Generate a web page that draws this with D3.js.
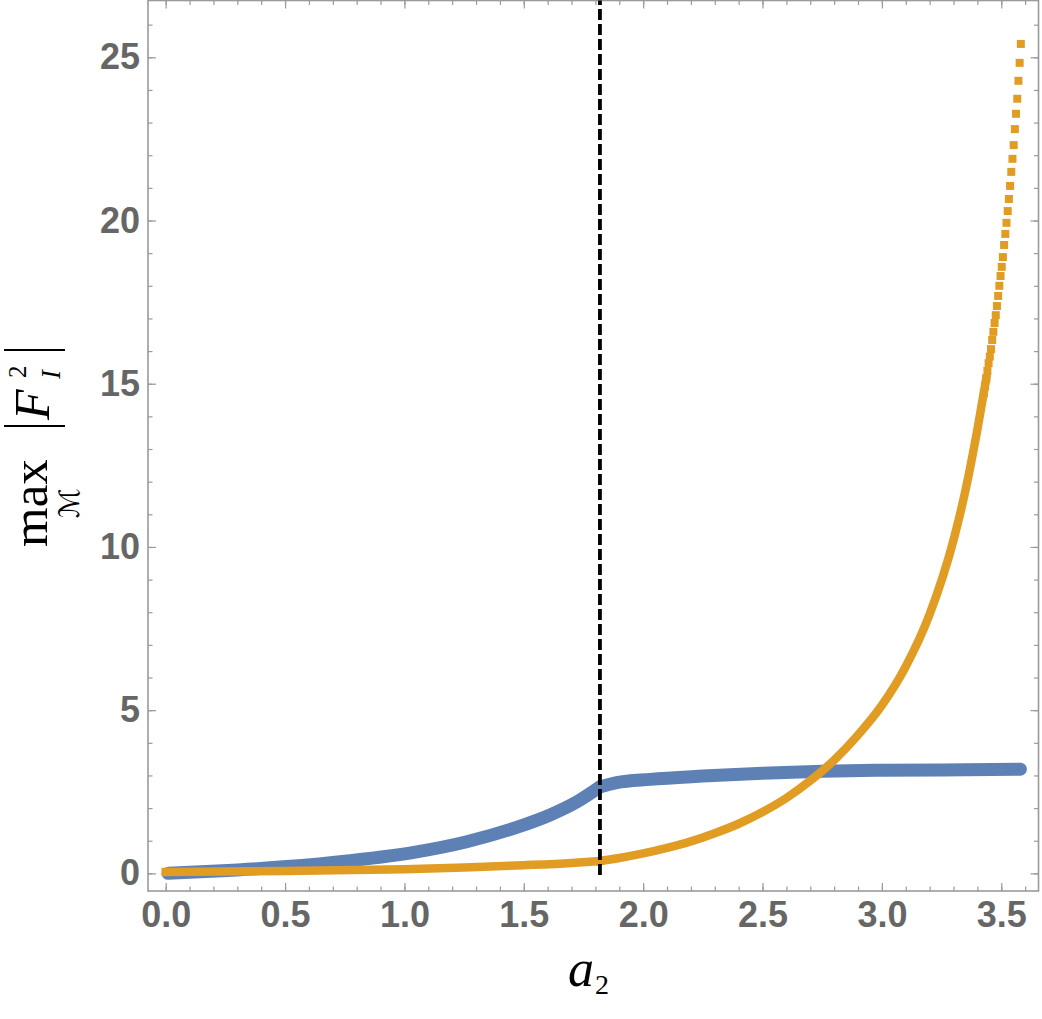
<!DOCTYPE html>
<html>
<head>
<meta charset="utf-8">
<script src="https://cdn.jsdelivr.net/npm/d3@7"></script>
<style>
  html, body { margin: 0; padding: 0; background: #fff; }
  svg { display: block; }
</style>
</head>
<body>
<svg id="chart" width="1042" height="1019"></svg>
<script>
// ---- data ----
// blue: rising branch up to the critical value, then the flat branch
const blueLowA = [0.01, 0.214, 0.493, 0.772, 1.052, 1.261, 1.47, 1.61, 1.722, 1.819];
const blueLowY = [0.0, 0.07, 0.2, 0.39, 0.66, 0.97, 1.41, 1.79, 2.19, 2.65];
const blueHighA = [1.819, 1.889, 2.029, 2.25, 2.5, 2.75, 3.0, 3.25, 3.58];
const blueHighY = [2.65, 2.78, 2.88, 2.98, 3.07, 3.13, 3.16, 3.17, 3.19];

// orange: dense (continuous-looking) part, below and above the critical value
const orangeLowA = [0, 0.5, 1.0, 1.25, 1.5, 1.7, 1.819];
const orangeLowY = [0.04, 0.07, 0.13, 0.18, 0.25, 0.32, 0.38];
const orangeHighA = [1.819, 1.9, 2.0, 2.1, 2.2, 2.3, 2.4, 2.5, 2.6, 2.7, 2.8, 2.9, 3.0, 3.1, 3.2, 3.3, 3.35, 3.4, 3.437];
const orangeHighY = [0.38, 0.47, 0.61, 0.78, 0.98, 1.23, 1.52, 1.88, 2.31, 2.84, 3.47, 4.24, 5.15, 6.34, 7.94, 10.21, 11.73, 13.60, 15.15];

// orange: discrete markers at the top (spaced out)
const dotA = [3.582, 3.577, 3.572, 3.567, 3.562, 3.557, 3.552, 3.547, 3.542, 3.537, 3.532, 3.527, 3.522, 3.517, 3.512, 3.507, 3.502, 3.497, 3.492, 3.487, 3.482, 3.477, 3.472, 3.467, 3.462, 3.457, 3.452, 3.447, 3.442, 3.437, 3.432, 3.427];
const dotY = [25.41, 24.83, 24.28, 23.73, 23.27, 22.80, 22.31, 21.89, 21.49, 21.06, 20.66, 20.29, 19.93, 19.59, 19.25, 18.88, 18.58, 18.30, 18.00, 17.69, 17.38, 17.10, 16.86, 16.59, 16.34, 16.06, 15.83, 15.63, 15.39, 15.15, 14.93, 14.71];

const criticalA = [1.819];

const xMajorTicks = [0, 0.5, 1.0, 1.5, 2.0, 2.5, 3.0, 3.5];
const xMinorTicks = [0,0.1,0.2,0.3,0.4,0.5,0.6,0.7,0.8,0.9,1.0,1.1,1.2,1.3,1.4,1.5,1.6,1.7,1.8,1.9,2.0,2.1,2.2,2.3,2.4,2.5,2.6,2.7,2.8,2.9,3.0,3.1,3.2,3.3,3.4,3.5,3.6];
const yMajorTicks = [0, 5, 10, 15, 20, 25];
const yMinorTicks = [0,1,2,3,4,5,6,7,8,9,10,11,12,13,14,15,16,17,18,19,20,21,22,23,24,25,26];

// ---- layout ----
const L = 148, R = 1038.5, T = 0.5, B = 891;
const svg = d3.select("#chart");

const x = d3.scaleLinear().domain([-0.0741, 3.656]).range([L, R]);
const y = d3.scaleLinear().domain([-0.54, 26.74]).range([B, T]);

const axisColor = "#9a9a9a";
const labelFont = "'Liberation Sans', Arial, Helvetica, sans-serif";

function styleAxis(g) {
  g.select(".domain").remove();
  g.selectAll(".tick line").attr("stroke", axisColor).attr("stroke-width", 1.2);
  g.selectAll(".tick text")
    .attr("fill", "#666")
    .attr("font-family", labelFont)
    .attr("font-weight", "bold")
    .attr("font-size", 36);
}

// minor ticks (all four sides)
svg.append("g").attr("transform", `translate(0,${B})`)
  .call(d3.axisBottom(x).tickValues(xMinorTicks).tickSize(-4.5).tickFormat(""))
  .call(styleAxis);
svg.append("g").attr("transform", `translate(0,${T})`)
  .call(d3.axisTop(x).tickValues(xMinorTicks).tickSize(-4.5).tickFormat(""))
  .call(styleAxis);
svg.append("g").attr("transform", `translate(${L},0)`)
  .call(d3.axisLeft(y).tickValues(yMinorTicks).tickSize(-4.5).tickFormat(""))
  .call(styleAxis);
svg.append("g").attr("transform", `translate(${R},0)`)
  .call(d3.axisRight(y).tickValues(yMinorTicks).tickSize(-4.5).tickFormat(""))
  .call(styleAxis);

// major ticks
svg.append("g").attr("transform", `translate(0,${B})`)
  .call(d3.axisBottom(x).tickValues(xMajorTicks).tickSize(-8).tickPadding(10.5).tickFormat(d3.format(".1f")))
  .call(styleAxis);
svg.append("g").attr("transform", `translate(0,${T})`)
  .call(d3.axisTop(x).tickValues(xMajorTicks).tickSize(-8).tickFormat(""))
  .call(styleAxis);
svg.append("g").attr("transform", `translate(${L},0)`)
  .call(d3.axisLeft(y).tickValues(yMajorTicks).tickSize(-8).tickPadding(8).tickFormat(d3.format("d")))
  .call(styleAxis);
svg.append("g").attr("transform", `translate(${R},0)`)
  .call(d3.axisRight(y).tickValues(yMajorTicks).tickSize(-8).tickFormat(""))
  .call(styleAxis);

// frame
svg.append("rect")
  .attr("x", L).attr("y", T).attr("width", R - L).attr("height", B - T)
  .attr("fill", "none").attr("stroke", axisColor).attr("stroke-width", 1.6);

// ---- series ----
const plot = svg.append("g");
const line = d3.line().x(d => x(d[0])).y(d => y(d[1])).curve(d3.curveMonotoneX);

const zip = (A, Y) => A.map((a, i) => [a, Y[i]]);

[zip(blueLowA, blueLowY), zip(blueHighA, blueHighY)].forEach(seg => {
  plot.append("path")
    .datum(seg)
    .attr("d", line)
    .attr("fill", "none")
    .attr("stroke", "#5E81B5")
    .attr("stroke-width", 13)
    .attr("stroke-linecap", "round")
    .attr("stroke-linejoin", "round");
});

[zip(orangeLowA, orangeLowY), zip(orangeHighA, orangeHighY)].forEach(seg => {
  plot.append("path")
    .datum(seg)
    .attr("d", line)
    .attr("fill", "none")
    .attr("stroke", "#E19C24")
    .attr("stroke-width", 8.5)
    .attr("stroke-linecap", "square")
    .attr("stroke-linejoin", "round");
});

const sq = 8;
plot.selectAll("rect.dot")
  .data(zip(dotA, dotY))
  .enter().append("rect")
  .attr("class", "dot")
  .attr("x", d => x(d[0]) - sq / 2)
  .attr("y", d => y(d[1]) - sq / 2)
  .attr("width", sq).attr("height", sq)
  .attr("fill", "#E19C24");

// critical dashed line
plot.selectAll("line.crit")
  .data(criticalA)
  .enter().append("line")
  .attr("class", "crit")
  .attr("x1", d => x(d)).attr("x2", d => x(d))
  .attr("y1", y(-0.05)).attr("y2", T)
  .attr("stroke", "#000")
  .attr("stroke-width", 3.8)
  .attr("stroke-dasharray", "11,4");

// ---- axis titles ----
const serif = "'Liberation Serif', 'Times New Roman', Times, serif";

// x title: a_2
const xt = svg.append("text")
  .attr("x", 568).attr("y", 986)
  .attr("font-family", serif)
  .attr("fill", "#000");
xt.append("tspan").attr("font-style", "italic").attr("font-size", 52).text("a");
xt.append("tspan").attr("font-size", 28).attr("dy", 8).attr("dx", 1).text("2");

// y title: max_M |F_I^2| rotated
const yt = svg.append("g").attr("transform", "translate(47,547) rotate(-90)");
yt.append("text").attr("x", 0).attr("y", 0)
  .attr("font-family", serif).attr("font-size", 51).attr("fill", "#000").text("max");
yt.append("text").attr("x", 44).attr("y", 32).attr("text-anchor", "middle")
  .attr("font-family", "'DejaVu Serif', 'DejaVu Sans', serif").attr("font-style", "italic")
  .attr("font-size", 28).attr("fill", "#000").text("\u2133");
yt.append("line").attr("x1", 121).attr("x2", 121).attr("y1", -43).attr("y2", 18)
  .attr("stroke", "#000").attr("stroke-width", 2);
yt.append("line").attr("x1", 197).attr("x2", 197).attr("y1", -43).attr("y2", 18)
  .attr("stroke", "#000").attr("stroke-width", 2);
yt.append("text").attr("x", 127).attr("y", 2)
  .attr("font-family", serif).attr("font-style", "italic").attr("font-size", 50).attr("fill", "#000").text("F");
yt.append("text").attr("x", 169).attr("y", -21)
  .attr("font-family", serif).attr("font-size", 25).attr("fill", "#000").text("2");
yt.append("text").attr("x", 168).attr("y", 13)
  .attr("font-family", serif).attr("font-style", "italic").attr("font-size", 27).attr("fill", "#000").text("I");
</script>
</body>
</html>
